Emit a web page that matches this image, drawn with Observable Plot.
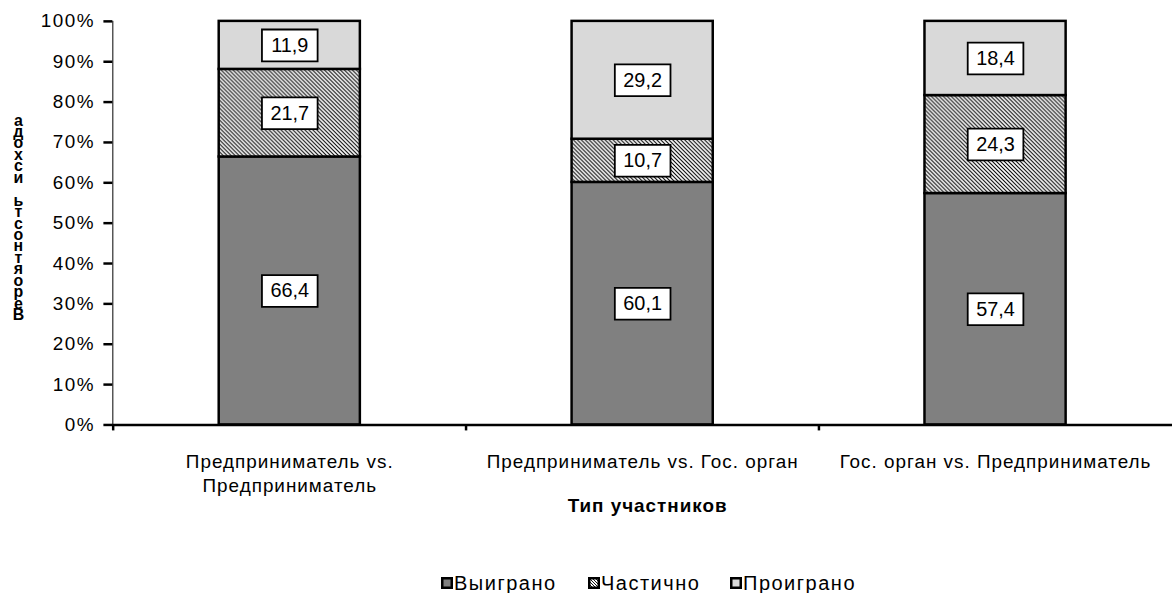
<!DOCTYPE html>
<html><head><meta charset="utf-8">
<script src="https://cdn.jsdelivr.net/npm/d3@7"></script>
<script src="https://cdn.jsdelivr.net/npm/@observablehq/plot@0.6"></script>
<style>
html,body{margin:0;padding:0;background:#fff;overflow:hidden;}
#wrap{position:relative;width:1173px;height:593px;overflow:hidden;font-family:"Liberation Sans",Arial,sans-serif;}
#chart svg g[aria-label^="y-axis"] line,#chart svg g[aria-label^="y-axis"] path{stroke-width:2.5px;stroke:#000;}
#chart svg g[aria-label^="y-axis"] text{letter-spacing:1.5px;}
#legend{position:absolute;left:441px;top:572px;display:flex;font-size:20px;letter-spacing:1.5px;color:#000;line-height:22px;}
#legend .item{display:flex;align-items:center;}
#legend .item:nth-child(1){width:147px;}
#legend .item:nth-child(2){width:142px;}
#legend svg{margin-right:1px;}
</style></head><body><div id="wrap"><div id="chart"></div><div id="legend"></div></div>
<script>
const categories = ["Предприниматель vs. Предприниматель", "Предприниматель vs. Гос. орган", "Гос. орган vs. Предприниматель"];
const categoryLabels = ["Предприниматель vs.\nПредприниматель", "Предприниматель vs. Гос. орган", "Гос. орган vs. Предприниматель"];
const outcomes = ["Выиграно", "Частично", "Проиграно"];
const won = [66.4, 60.1, 57.4];
const partial = [21.7, 10.7, 24.3];
const lost = [11.9, 29.2, 18.4];
const yTicks = [0, 10, 20, 30, 40, 50, 60, 70, 80, 90, 100];
const yTitle = "Вероятность исхода";
const xTitle = "Тип участников";
const fills = ["#808080", "url(#hatch)", "#d9d9d9"];

const series = [won, partial, lost];
const rows = [];
categories.forEach((c, i) => {
  const total = series.reduce((s, arr) => s + arr[i], 0);
  let cum = 0;
  outcomes.forEach((o, k) => {
    const v = series[k][i];
    const y1 = cum / total * 100;
    cum += v;
    const y2 = cum / total * 100;
    rows.push({cat: c, outcome: o, value: v, y1, y2, mid: (y1 + y2) / 2, label: v.toFixed(1).replace(".", ",")});
  });
});

const boxSymbol = {draw(ctx) { ctx.moveTo(-28, -16); ctx.lineTo(28, -16); ctx.lineTo(28, 16); ctx.lineTo(-28, 16); ctx.closePath(); }};
const stackedTitle = [...yTitle].reverse().map(ch => ch === " " ? "\u00a0" : ch).join("\n");
const halfStep = 1066 / 3 / 2;

const chart = Plot.plot({
  width: 1180, height: 530,
  marginLeft: 113, marginRight: 1, marginTop: 21, marginBottom: 103,
  style: {fontFamily: "Liberation Sans, Arial, sans-serif", fontSize: "19px", background: "white", color: "black", overflow: "visible"},
  x: {domain: categories, paddingInner: 0.6, paddingOuter: 0.3, axis: null},
  y: {domain: [0, 100], ticks: yTicks, tickFormat: d => d + "%", label: null, line: true, tickSize: 9, tickPadding: 9},
  color: {domain: outcomes, range: fills},
  marks: [
    Plot.barY(rows, {x: "cat", y1: "y1", y2: "y2", fill: "outcome", stroke: "black", strokeWidth: 2.5}),
    Plot.ruleY([0], {strokeWidth: 2.5}),
    Plot.ruleX(categories, {x: d => d, y1: 0, y2: 0, dx: -halfStep, insetBottom: -6, strokeWidth: 2.5}),
    Plot.dot(rows, {x: "cat", y: "mid", symbol: boxSymbol, fill: "white", stroke: "black", strokeWidth: 1.8}),
    Plot.text(rows, {x: "cat", y: "mid", text: "label", fontSize: 20, fill: "black"}),
    Plot.text(categories, {x: d => d, text: (d, i) => categoryLabels[i], frameAnchor: "bottom", lineAnchor: "top", dy: 27, fontSize: 19, lineHeight: 1.23, fill: "black"}),
    Plot.text([xTitle], {text: d => d, frameAnchor: "bottom", lineAnchor: "middle", dy: 81, dx: 5, fontSize: 19, fontWeight: "bold", fill: "black"}),
    Plot.text([stackedTitle], {text: d => d, frameAnchor: "left", lineAnchor: "middle", textAnchor: "middle", dx: -95, dy: -4, fontSize: 16, fontWeight: "bold", lineHeight: 0.72, fill: "black"})
  ]
});

const svg = d3.select(chart.tagName === "svg" ? chart : chart.querySelector("svg"));
const defs = svg.insert("defs", ":first-child");
const pat = defs.append("pattern").attr("id", "hatch").attr("patternUnits", "userSpaceOnUse").attr("width", 4).attr("height", 4);
pat.append("rect").attr("width", 4).attr("height", 4).attr("fill", "white");
pat.append("path").attr("d", "M0,0L4,4M-1,3L1,5M3,-1L5,1").attr("stroke", "black").attr("stroke-width", 1.1);
const textGroups = svg.selectAll('g[aria-label="text"]').nodes();
[1, 2].forEach(i => { if (textGroups[i]) textGroups[i].style.letterSpacing = "1px"; });
document.getElementById("chart").appendChild(chart);

const legend = d3.select("#legend");
outcomes.forEach((o, k) => {
  const it = legend.append("div").attr("class", "item");
  const s = it.append("svg").attr("width", 12).attr("height", 12);
  const d = s.append("defs").append("pattern").attr("id", "lh" + k).attr("patternUnits", "userSpaceOnUse").attr("width", 3).attr("height", 3);
  d.append("rect").attr("width", 3).attr("height", 3).attr("fill", "white");
  d.append("path").attr("d", "M0,0L3,3M-1,2L1,4M2,-1L4,1").attr("stroke", "black").attr("stroke-width", 0.9);
  s.append("rect").attr("x", 1.25).attr("y", 1.25).attr("width", 9.5).attr("height", 9.5)
    .attr("fill", k === 1 ? "url(#lh1)" : fills[k]).attr("stroke", "black").attr("stroke-width", 2.5);
  it.append("span").text(o);
});
</script></body></html>
